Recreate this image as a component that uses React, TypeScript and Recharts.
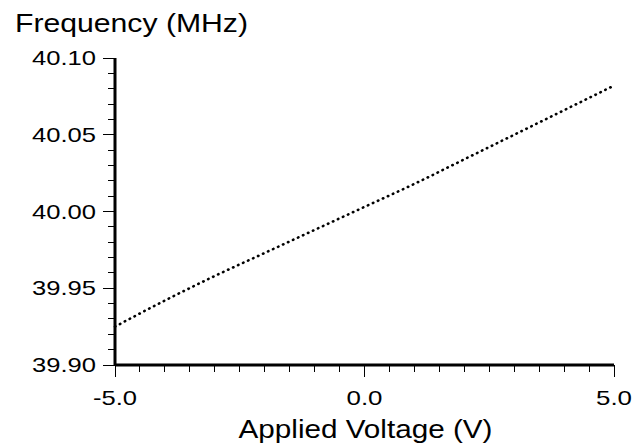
import { LineChart, Line, XAxis, YAxis } from "recharts";

// applied voltage (V) vs. output frequency (MHz)
const voltage = [-5, -4, -3, -2, -1, 0, 1, 2, 3, 4, 5];
const frequency = [39.925, 39.942, 39.958, 39.973, 39.988, 40.003, 40.018, 40.034, 40.05, 40.066, 40.082];

const xTicks = [-5, -4.5, -4, -3.5, -3, -2.5, -2, -1.5, -1, -0.5, 0, 0.5, 1, 1.5, 2, 2.5, 3, 3.5, 4, 4.5, 5];
const xMajor = [-5, 0, 5];
const yTicks = [
  39.9, 39.91, 39.92, 39.93, 39.94, 39.95, 39.96, 39.97, 39.98, 39.99, 40.0,
  40.01, 40.02, 40.03, 40.04, 40.05, 40.06, 40.07, 40.08, 40.09, 40.1,
];
const yMajor = [39.9, 39.95, 40.0, 40.05, 40.1];

const data = voltage.map((v, i) => ({ v, f: frequency[i] }));

const font = "'Liberation Sans', Arial, Helvetica, sans-serif";

const isMajor = (list: number[], v: number) => list.some((m) => Math.abs(m - v) < 1e-6);

function XTick(props: any) {
  const { x, y, payload } = props;
  const major = isMajor(xMajor, payload.value);
  const label = payload.value.toFixed(1);
  return (
    <g>
      <line x1={x} x2={x} y1={y} y2={y + (major ? 12 : 7)} stroke="#000" strokeWidth={1} shapeRendering="crispEdges" />
      {major && (
        <text x={x} y={y + 40} textAnchor="middle" fontFamily={font} fontSize={21} fill="#000"
          textLength={label.length > 3 ? 44 : 36} lengthAdjust="spacingAndGlyphs">
          {label}
        </text>
      )}
    </g>
  );
}

function YTick(props: any) {
  const { x, y, payload } = props;
  const major = isMajor(yMajor, payload.value);
  return (
    <g>
      <line x1={x} x2={x - (major ? 12 : 7)} y1={y} y2={y} stroke="#000" strokeWidth={1} shapeRendering="crispEdges" />
      {major && (
        <text x={x - 19} y={y + 7} textAnchor="end" fontFamily={font} fontSize={21} fill="#000"
          textLength={64} lengthAdjust="spacingAndGlyphs">
          {payload.value.toFixed(2)}
        </text>
      )}
    </g>
  );
}

export default function App() {
  return (
    <div style={{ position: "absolute", left: 0, top: 0, width: 636, height: 447, background: "#fff" }}>
      <LineChart width={636} height={447} data={data} margin={{ top: 58, right: 22, bottom: 0, left: 0 }}>
        <XAxis
          dataKey="v"
          type="number"
          domain={[-5, 5]}
          ticks={xTicks}
          interval={0}
          height={82}
          tickLine={false}
          tickSize={0}
          tickMargin={0}
          tick={<XTick />}
          axisLine={{ stroke: "#000", strokeWidth: 3 }}
          label={{
            content: (p: any) => (
              <text x={p.viewBox.x + p.viewBox.width / 2 + 1} y={p.viewBox.y + 73} textAnchor="middle"
                fontFamily={font} fontSize={25} fill="#000" textLength={254} lengthAdjust="spacingAndGlyphs">
                Applied Voltage (V)
              </text>
            ),
          }}
        />
        <YAxis
          type="number"
          domain={[39.9, 40.1]}
          ticks={yTicks}
          interval={0}
          width={115}
          tickLine={false}
          tickSize={0}
          tickMargin={0}
          tick={<YTick />}
          axisLine={{ stroke: "#000", strokeWidth: 3 }}
          label={{
            content: (p: any) => (
              <text x={15} y={p.viewBox.y - 26} textAnchor="start" fontFamily={font} fontSize={25} fill="#000"
                textLength={233} lengthAdjust="spacingAndGlyphs">
                Frequency (MHz)
              </text>
            ),
          }}
        />
        <Line
          type="monotone"
          dataKey="f"
          stroke="#000"
          strokeWidth={2.6}
          strokeDasharray="0.5 5"
          strokeLinecap="round"
          dot={false}
          activeDot={false}
          isAnimationActive={false}
        />
      </LineChart>
    </div>
  );
}
